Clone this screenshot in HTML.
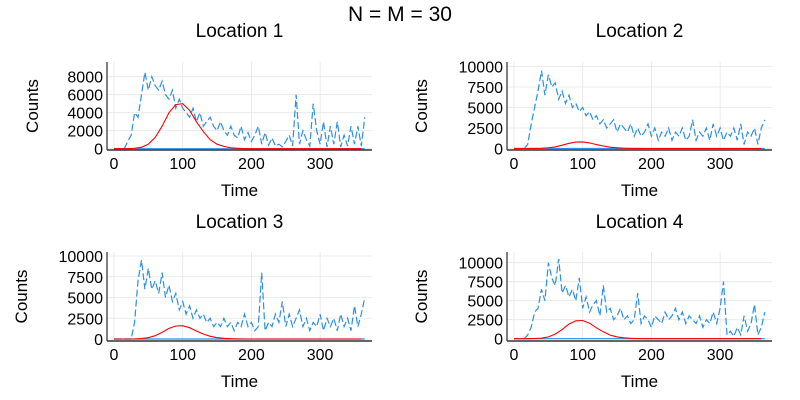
<!DOCTYPE html>
<html><head><meta charset="utf-8"><style>
html,body{margin:0;padding:0;background:#fff;}
svg{display:block;font-family:"Liberation Sans","DejaVu Sans",sans-serif;}
</style></head><body>
<svg id="chart" width="800" height="400" viewBox="0 0 800 400">
<text x="400" y="21" font-size="21" text-anchor="middle">N = M = 30</text>
</svg>
<script>
const xTicks = [0, 100, 200, 300];
const redShape = [0,0,0,0.01,0.03,0.1,0.25,0.5,0.8,0.98,1,0.85,0.6,0.38,0.2,0.1,0.05,0.02,0.01,0,0,0,0,0,0,0,0,0,0,0,0,0,0,0,0,0,0];
const titles = ["Location 1","Location 2","Location 3","Location 4"];
const yTicks1 = [0,2000,4000,6000,8000];
const yTicks2 = [0,2500,5000,7500,10000];
const yTicks3 = [0,2500,5000,7500,10000];
const yTicks4 = [0,2500,5000,7500,10000];
const redPeaks = [5000, 800, 1600, 2400];
const blue1 = [0,0,0,0,800,1500,4000,3500,6000,8500,6500,8000,7000,6500,7500,6000,5500,6500,4500,5500,4500,4000,3500,4500,3000,4000,2500,3000,3500,2500,2000,3000,2000,1500,2500,1500,1200,2500,1000,1800,800,1500,2500,500,1800,400,1200,300,500,200,800,1500,300,6000,500,2000,1000,300,5000,2000,500,3000,200,2500,500,3000,200,1500,300,2500,500,2500,300,3500];
const blue2 = [0,0,0,0,500,3000,5000,7000,9500,6500,9000,7500,8000,6000,7000,5500,6500,5000,5500,4500,5000,4000,4500,3500,4000,3000,3500,2500,3000,3500,2000,3000,2500,2000,3000,1500,2500,1500,2000,3000,1500,2500,1000,2000,1500,2500,1000,2000,1500,2500,1000,1500,3500,1000,2000,1500,2500,1000,3000,1500,2500,1000,2000,1500,2500,1000,3000,500,2000,1500,2500,500,2500,3500];
const blue3 = [0,0,0,0,0,0,2000,7000,9500,6000,8500,6000,7000,5500,8000,5000,6500,4500,5500,3500,4500,3000,4000,2500,3500,2500,3000,2000,2500,1500,2000,1500,2500,1500,2000,1000,2000,1500,3000,1500,2000,1000,1500,8000,1000,2000,1500,3000,2000,4500,1500,3000,1500,2500,3500,1500,2500,1000,2000,1500,3000,1000,2500,1500,2500,1000,3000,1500,2500,1000,4000,1500,3000,5000];
const blue4 = [0,0,0,0,500,1500,3500,4000,6500,5000,10000,8000,7000,10500,6000,7000,5500,6500,5000,8000,4000,5500,3500,4500,5000,3000,7000,3500,4000,2500,3000,4000,2500,3000,2000,2500,6000,2000,3000,2500,1500,3000,2500,2000,3500,2500,3000,4000,2500,3500,2000,3000,2500,2000,3000,1500,2500,2000,3500,2000,4000,7500,500,1000,300,1500,500,3000,1000,2000,4500,500,1500,3500];
const blues = [blue1, blue2, blue3, blue4];
const yTicksAll = [yTicks1, yTicks2, yTicks3, yTicks4];
const panels = [
 {l:107,r:372,t:62,b:150,x0:114,px:0.687,y0:148.7,py:0.009,ly:32,ty:37},
 {l:507,r:772,t:62,b:150,x0:514,px:0.687,y0:148.5,py:0.0082,ly:421,ty:37},
 {l:107,r:372,t:252,b:341,x0:114,px:0.687,y0:339,py:0.0083,ly:21,ty:228},
 {l:507,r:772,t:252,b:341,x0:514,px:0.687,y0:338.7,py:0.0076,ly:421,ty:228}
];
const NS = "http://www.w3.org/2000/svg";
const svg = document.getElementById("chart");
function mk(tag, attrs, parent){const e=document.createElementNS(NS,tag);for(const k in attrs)e.setAttribute(k,attrs[k]);(parent||svg).appendChild(e);return e;}
panels.forEach((p,i)=>{
 const g = mk("g",{});
 
 
 const X = t => p.x0 + t*p.px;
 const Y = v => p.y0 - v*p.py;
 const tt = mk("text",{x:(p.l+p.r)/2,y:p.ty,"font-size":19,"text-anchor":"middle"},g);
 tt.textContent = titles[i];
 
 
 xTicks.forEach(t=>{
  const gl = mk("line",{x1:X(t),x2:X(t),y1:p.t,y2:p.b,stroke:"#e6e6e6","stroke-width":0.8},g);
  
  
  const tl = mk("text",{x:X(t),y:p.b+19,"font-size":16,"text-anchor":"middle"},g);
  tl.textContent = t;
  
  
 });
 yTicksAll[i].forEach(v=>{
  const gl = mk("line",{x1:p.l,x2:p.r,y1:Y(v),y2:Y(v),stroke:"#e6e6e6","stroke-width":0.8},g);
  
  
  const tl = mk("text",{x:p.l-4,y:Y(v)+6,"font-size":16,"text-anchor":"end"},g);
  tl.textContent = v;
  
  
 });
 const xl = mk("text",{x:(p.l+p.r)/2,y:p.b+46,"font-size":17,"text-anchor":"middle"},g);
 xl.textContent = "Time";
 
 
 const cy=(p.t+p.b)/2;
 const yl = mk("text",{x:p.ly+6,y:cy,"font-size":17,"text-anchor":"middle",transform:`rotate(-90 ${p.ly+6} ${cy})`},g);
 yl.textContent = "Counts";
 
 
 const pts = blues[i].map((v,k)=>X(k*5).toFixed(1)+","+Y(v).toFixed(1)).join(" ");
 const bl = mk("polyline",{points:pts,fill:"none",stroke:"#2a8fe8","stroke-width":1.2,"stroke-dasharray":"7 3"},g);
 
 
 const fl = mk("line",{x1:X(0),x2:X(365),y1:Y(0),y2:Y(0),stroke:"#2a8fe8","stroke-width":1.2},g);
 
 
 const rp = redShape.map((s,k)=>X(k*10).toFixed(1)+","+Y(s*redPeaks[i]).toFixed(1)).join(" ");
 const rl = mk("polyline",{points:rp,fill:"none",stroke:"#ff0000","stroke-width":1.1},g);
 
 
 const ax = mk("line",{x1:p.l,x2:p.l,y1:p.t,y2:p.b,stroke:"#000","stroke-width":1},g);
 
 
 const bx = mk("line",{x1:p.l,x2:p.r,y1:p.b,y2:p.b,stroke:"#333","stroke-width":1.5},g);
 
 
});
</script>
</body></html>
